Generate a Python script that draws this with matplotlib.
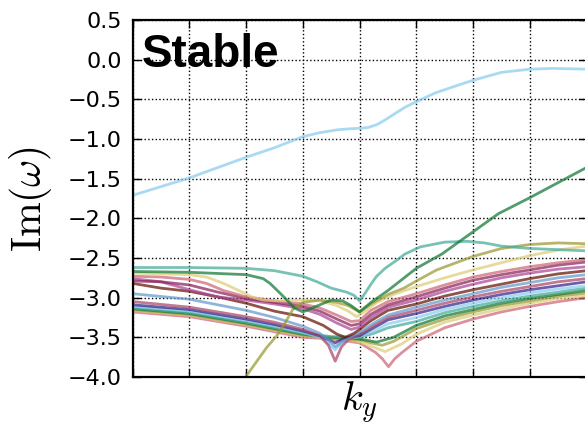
import matplotlib
matplotlib.use("Agg")
import matplotlib.pyplot as plt

plt.rcParams["mathtext.fontset"] = "cm"

# Tol 12-colour palette
c_indigo, c_blue, c_cyan, c_teal = "#332288", "#6699CC", "#88CCEE", "#44AA99"
c_green, c_olive, c_sand, c_brown = "#117733", "#999933", "#DDCC77", "#661100"
c_rose, c_mauve, c_wine, c_purple = "#CC6677", "#AA4466", "#882255", "#AA4499"

# ---- mode branches: growth rate Im(omega) vs k_y ----
top_x = [0, 0.5, 1, 1.5, 2, 2.5, 3, 3.3, 3.6, 3.85, 4.0, 4.15, 4.3, 4.45, 4.6, 4.8, 5, 5.33, 5.7, 6, 6.5, 7,
         7.4, 8]
top_y = [-1.71, -1.60, -1.49, -1.36, -1.23, -1.11, -0.97, -0.92, -0.885, -0.87, -0.865, -0.855, -0.82, -0.76,
         -0.69, -0.60, -0.53, -0.42, -0.33, -0.26, -0.16, -0.12, -0.11, -0.12]

green_x = [0, 1, 2, 2.3, 2.42, 2.55, 2.72, 2.85, 3.0, 3.2, 3.5, 3.7, 3.85, 4.0, 4.2, 4.5, 5, 5.45, 6, 6.45, 7, 8]
green_y = [-2.67, -2.68, -2.71, -2.76, -2.82, -2.91, -3.03, -3.13, -3.18, -3.12, -3.03, -3.04, -3.10, -3.18,
           -3.06, -2.91, -2.63, -2.45, -2.17, -1.94, -1.74, -1.36]

teal_x = [0, 1, 2, 2.5, 3, 3.25, 3.5, 3.77, 3.9, 4.0, 4.1, 4.2, 4.3, 4.45, 4.63, 4.8, 5.07, 5.5, 5.9, 6.2, 6.5, 7, 8]
teal_y = [-2.62, -2.62, -2.63, -2.66, -2.73, -2.80, -2.88, -2.93, -2.97, -3.04, -2.94, -2.83, -2.73, -2.63,
          -2.54, -2.45, -2.36, -2.30, -2.29, -2.31, -2.35, -2.38, -2.41]

olive_x = [1.97, 2.2, 2.36, 2.54, 2.66, 2.83, 3.0, 3.3, 3.6, 3.8, 4.0, 4.2, 4.5, 4.78, 5.0, 5.36, 6.0, 6.5, 7, 7.5, 8]
olive_y = [-4.02, -3.79, -3.63, -3.48, -3.35, -3.14, -3.06, -3.03, -3.06, -3.10, -3.18, -3.08, -2.96, -2.88,
           -2.79, -2.65, -2.48, -2.38, -2.33, -2.31, -2.32]

sand_x = [0, 0.5, 1.0, 1.3, 1.6, 1.9, 2.1, 2.3, 2.6, 3.0, 3.3, 3.6, 3.8, 3.95, 4.1, 4.3, 4.6, 5, 5.5, 6, 6.5, 7, 7.5, 8]
sand_y = [-2.69, -2.70, -2.71, -2.74, -2.82, -2.92, -2.99, -3.03, -3.04, -3.03, -3.04, -3.10, -3.17, -3.24,
          -3.17, -3.06, -2.96, -2.86, -2.75, -2.65, -2.56, -2.47, -2.40, -2.35]

rose_x = [0, 0.5, 1.0, 1.3, 1.6, 2.0, 2.5, 3.0, 3.3, 3.6, 3.85, 4.0, 4.2, 4.5, 5.0, 5.5, 6.0, 6.5, 7.0, 7.5, 8]
rose_y = [-2.73, -2.74, -2.77, -2.82, -2.91, -2.99, -3.04, -3.08, -3.13, -3.22, -3.30, -3.29, -3.16, -3.05,
          -2.95, -2.84, -2.74, -2.67, -2.61, -2.56, -2.52]

mid_x = [0, 0.5, 1.0, 1.5, 2.0, 2.5, 3.0, 3.3, 3.6, 3.85, 4.0, 4.2, 4.5, 5.0, 5.5, 6.0, 6.5, 7.0, 7.5, 8]
wine_y = [-2.79, -2.80, -2.84, -2.93, -3.01, -3.06, -3.11, -3.17, -3.27, -3.35, -3.33, -3.21, -3.09, -2.99,
          -2.88, -2.78, -2.71, -2.65, -2.59, -2.55]
purple_y = [-2.76, -2.80, -2.90, -2.99, -3.03, -3.08, -3.14, -3.21, -3.32, -3.40, -3.37, -3.25, -3.12, -3.03,
            -2.92, -2.83, -2.75, -2.69, -2.64, -2.61]

brown_x = [0, 0.5, 1.0, 1.5, 2.0, 2.5, 3.0, 3.36, 3.6, 3.75, 3.9, 4.0, 4.2, 4.5, 5.0, 5.5, 6.0, 6.5, 7.0, 7.5, 8]
brown_y = [-2.82, -2.88, -2.92, -2.99, -3.07, -3.17, -3.24, -3.35, -3.46, -3.50, -3.45, -3.40, -3.29, -3.16,
           -3.08, -2.98, -2.90, -2.83, -2.76, -2.70, -2.66]

blue_x = [0, 1.0, 2.0, 2.5, 3.0, 3.3, 3.45, 3.57, 3.7, 3.85, 4.0, 4.25, 4.5, 5.0, 5.5, 6.0, 6.5, 7.0, 7.5, 8]
blue_y = [-2.95, -3.02, -3.16, -3.25, -3.36, -3.45, -3.53, -3.62, -3.55, -3.49, -3.44, -3.32, -3.22, -3.12,
          -3.03, -2.95, -2.87, -2.81, -2.75, -2.71]

cusp_x = [0, 1.0, 2.0, 2.5, 3.0, 3.3, 3.45, 3.57, 3.68, 3.8, 4.0, 4.25, 4.5, 5.0, 5.5, 6.0, 6.5, 7.0, 7.5, 8]
mauve_y = [-3.05, -3.12, -3.24, -3.31, -3.40, -3.48, -3.60, -3.80, -3.62, -3.53, -3.46, -3.35, -3.25, -3.16,
           -3.07, -2.99, -2.92, -2.86, -2.80, -2.76]
indigo_y = [-3.09, -3.15, -3.27, -3.34, -3.42, -3.48, -3.53, -3.57, -3.53, -3.50, -3.48, -3.38, -3.28, -3.20,
            -3.11, -3.03, -2.96, -2.90, -2.85, -2.80]
cyan_y = [-3.11, -3.17, -3.29, -3.36, -3.44, -3.50, -3.57, -3.66, -3.57, -3.52, -3.49, -3.42, -3.33, -3.25,
          -3.15, -3.07, -3.00, -2.94, -2.89, -2.85]

teal2_x = [0, 1, 2, 2.5, 3.0, 3.5, 4.0, 4.25, 4.5, 5.0, 5.5, 6.0, 6.5, 7.0, 7.5, 8]
teal2_y = [-3.13, -3.19, -3.31, -3.38, -3.45, -3.49, -3.50, -3.45, -3.38, -3.30, -3.19, -3.11, -3.04, -2.98,
           -2.93, -2.88]

green2_x = [0, 1, 2, 2.5, 3.0, 3.5, 4.0, 4.3, 4.6, 5.0, 5.5, 6.0, 6.5, 7.0, 7.5, 8]
green2_y = [-3.14, -3.20, -3.32, -3.39, -3.46, -3.50, -3.52, -3.56, -3.50, -3.35, -3.23, -3.15, -3.07, -3.01,
            -2.96, -2.91]

olive2_x = [0, 1, 2, 2.5, 3.0, 3.5, 4.0, 4.2, 4.4, 4.6, 5.0, 5.5, 6.0, 6.5, 7.0, 7.5, 8]
olive2_y = [-3.15, -3.21, -3.33, -3.40, -3.47, -3.51, -3.53, -3.57, -3.60, -3.55, -3.39, -3.27, -3.18, -3.10,
            -3.04, -2.98, -2.94]

sand2_x = [0, 1, 2, 2.5, 3.0, 3.5, 3.92, 4.2, 4.45, 4.75, 5.0, 5.5, 6.0, 6.5, 7.0, 7.5, 8]
sand2_y = [-3.16, -3.22, -3.34, -3.41, -3.48, -3.51, -3.54, -3.61, -3.68, -3.58, -3.46, -3.31, -3.22, -3.14,
           -3.07, -3.01, -2.97]

rose2_x = [0, 1, 2, 2.5, 3.0, 3.5, 4.0, 4.28, 4.4, 4.51, 4.62, 4.75, 5.0, 5.5, 6.0, 6.5, 7.0, 7.5, 8]
rose2_y = [-3.18, -3.24, -3.36, -3.43, -3.50, -3.52, -3.57, -3.69, -3.77, -3.87, -3.77, -3.69, -3.55, -3.38,
           -3.27, -3.18, -3.11, -3.05, -3.00]

branches = [
    (rose2_x, rose2_y, c_rose), (sand2_x, sand2_y, c_sand), (olive2_x, olive2_y, c_olive),
    (green2_x, green2_y, c_green), (teal2_x, teal2_y, c_teal), (cusp_x, cyan_y, c_cyan),
    (cusp_x, indigo_y, c_indigo), (cusp_x, mauve_y, c_mauve), (blue_x, blue_y, c_blue),
    (brown_x, brown_y, c_brown), (mid_x, purple_y, c_purple), (mid_x, wine_y, c_wine),
    (rose_x, rose_y, c_rose), (sand_x, sand_y, c_sand), (olive_x, olive_y, c_olive),
    (teal_x, teal_y, c_teal), (green_x, green_y, c_green), (top_x, top_y, c_cyan),
]

y_ticks = [-4.0, -3.5, -3.0, -2.5, -2.0, -1.5, -1.0, -0.5, 0.0, 0.5]
y_tick_labels = ["\u22124.0", "\u22123.5", "\u22123.0", "\u22122.5", "\u22122.0",
                 "\u22121.5", "\u22121.0", "\u22120.5", "0.0", "0.5"]
x_ticks = [0, 1, 2, 3, 4, 5, 6, 7, 8]

W, H = 585, 428
fig = plt.figure(figsize=(W / 100, H / 100), dpi=100)
ax = fig.add_axes([132.7 / W, (H - 377) / H, (586.5 - 132.7) / W, (377 - 20) / H])

for xs, ys, col in branches:
    ax.plot(xs, ys, color=col, lw=2.0, alpha=0.72, solid_capstyle="round", solid_joinstyle="round")

ax.set_xlim(0, 8)
ax.set_ylim(-4.0, 0.5)
ax.set_xticks(x_ticks)
ax.set_xticklabels([])
ax.set_yticks(y_ticks)
ax.set_yticklabels(y_tick_labels, fontsize=16)
ax.tick_params(direction="in", length=6, width=1, top=True, right=True, pad=8)
ax.grid(True, color="black", linestyle=":", linewidth=1)
for s in ax.spines.values():
    s.set_linewidth(1.6)

ax.text(0.02, 0.868, "Stable", transform=ax.transAxes, fontsize=33, fontweight="bold",
        family="Liberation Sans", ha="left", va="baseline")

fig.text(31 / W, 1 - 199 / H, r"$\mathrm{Im}(\omega)$", fontsize=30, rotation=90,
         ha="center", va="center")
fig.text(359 / W, 1 - 403 / H, r"$k_y$", fontsize=29, ha="center", va="center")

fig.savefig("out.png", dpi=100)
